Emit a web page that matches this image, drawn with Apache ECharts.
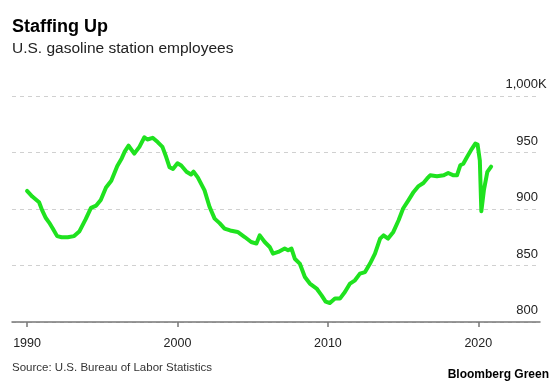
<!DOCTYPE html>
<html>
<head>
<meta charset="utf-8">
<script src="https://cdn.jsdelivr.net/npm/echarts@6/dist/echarts.min.js"></script>
<style>
html,body{margin:0;padding:0;background:#fff;}
#c{width:560px;height:381px;}
</style>
</head>
<body>
<div id="c"></div>
<script>
// Decimal year of each reading
var years = [
1990.0,1990.35,1990.8,1991.0,1991.25,1991.47,1991.7,1992.0,1992.3,1992.7,
1993.13,1993.47,1993.9,1994.25,1994.6,1994.9,1995.25,1995.6,1996.0,1996.3,
1996.5,1996.75,1997.13,1997.47,1997.8,1998.0,1998.35,1998.7,1999.0,1999.25,
1999.47,1999.7,2000.0,2000.25,2000.6,2000.9,2001.07,2001.35,2001.8,2002.13,
2002.47,2002.8,2003.13,2003.5,2004.0,2004.47,2004.9,2005.25,2005.47,2005.8,
2006.13,2006.35,2006.7,2007.13,2007.35,2007.58,2007.8,2008.13,2008.47,2008.8,
2009.25,2009.58,2009.85,2010.13,2010.47,2010.8,2011.13,2011.47,2011.8,2012.13,
2012.47,2012.8,2013.13,2013.47,2013.7,2014.0,2014.35,2014.7,2015.0,2015.35,
2015.7,2016.0,2016.35,2016.6,2016.8,2017.25,2017.7,2018.0,2018.35,2018.58,
2018.8,2019.0,2019.25,2019.58,2019.8,2019.95,2020.1,2020.2,2020.37,2020.6,
2020.85
];
// Employees, thousands
var employees = [
916,911,906,899,892,888,883,876,875,875,
876,880,891,901,903,908,919,925,938,945,
951,956,949,955,963.5,961.5,963,959,955,946,
937,935.5,940.5,938.5,933,930.5,933,928,916.5,902,
891.5,887.5,882.7,881,879.7,875.2,870.8,869.4,876.7,870.8,
866.4,860.5,862,865,863.5,865,856,851.7,839.8,834,
829.6,823.6,818,816.8,820.7,820.7,826.5,834,836.9,842.8,
844.2,851.7,860.5,873.8,876.7,873.8,879.7,890,900.4,907.7,
915.1,920,923,927,929.8,929,929.8,931.9,929.8,929.8,
938.7,940,946,953.5,957.9,957,943,898,916.6,932.8,
937.5
];
var xTicks = [1990, 2000, 2010, 2020];
var yTicks = [800, 850, 900, 950, 1000];

var points = years.map(function (y, i) { return [y, employees[i]]; });
var FONT = '"Liberation Sans", Arial, sans-serif';

var chart = echarts.init(document.getElementById('c'), null, {renderer: 'canvas'});
chart.setOption({
  animation: false,
  backgroundColor: '#ffffff',
  textStyle: {fontFamily: FONT},
  title: [
    {text: 'Staffing Up', left: 12, top: 18, padding: 0,
     textStyle: {fontFamily: FONT, fontSize: 18, fontWeight: 'bold', color: '#000'}},
    {text: 'U.S. gasoline station employees', left: 12, top: 41, padding: 0,
     textStyle: {fontFamily: FONT, fontSize: 15.5, fontWeight: 'normal', color: '#222'}},
    {text: 'Source: U.S. Bureau of Labor Statistics', left: 12, top: 362, padding: 0,
     textStyle: {fontFamily: FONT, fontSize: 11.5, fontWeight: 'normal', color: '#333'}},
    {text: 'Bloomberg Green', right: 11, top: 369, padding: 0,
     textStyle: {fontFamily: FONT, fontSize: 12, fontWeight: 'bold', color: '#000'}}
  ],
  grid: {left: 12, right: 20, top: 96, bottom: 59, containLabel: false},
  xAxis: {
    type: 'value', min: 1989.0, max: 2024.1,
    axisLine: {show: true, lineStyle: {color: '#777', width: 1.5}},
    axisTick: {show: true, customValues: xTicks, length: 5, lineStyle: {color: '#777', width: 1.5}},
    axisLabel: {customValues: xTicks, margin: 15, fontSize: 12.5, color: '#222', fontFamily: FONT,
      formatter: function (v) { return String(v); }},
    splitLine: {show: false}
  },
  yAxis: {
    type: 'value', position: 'right', min: 800, max: 1000, interval: 50,
    axisLine: {show: false}, axisTick: {show: false},
    splitLine: {show: true, lineStyle: {color: '#d0d0d0', width: 1, type: [4, 4]}},
    axisLabel: {
      inside: true, margin: 2, align: 'right', verticalAlign: 'bottom',
      padding: [0, 0, 5, 0], fontSize: 13, color: '#222', fontFamily: FONT,
      formatter: function (v) { return v === 1000 ? '{n|1,000}{k|K}' : String(v); },
      rich: {
        n: {align: 'left', fontSize: 13, color: '#222', fontFamily: FONT},
        k: {width: 0, align: 'left', fontSize: 13, color: '#222', fontFamily: FONT}
      }
    }
  },
  series: [{
    type: 'line', data: points, showSymbol: false, smooth: false,
    lineStyle: {color: '#1fe21f', width: 4, cap: 'round', join: 'round'}
  }]
});
</script>
</body>
</html>
